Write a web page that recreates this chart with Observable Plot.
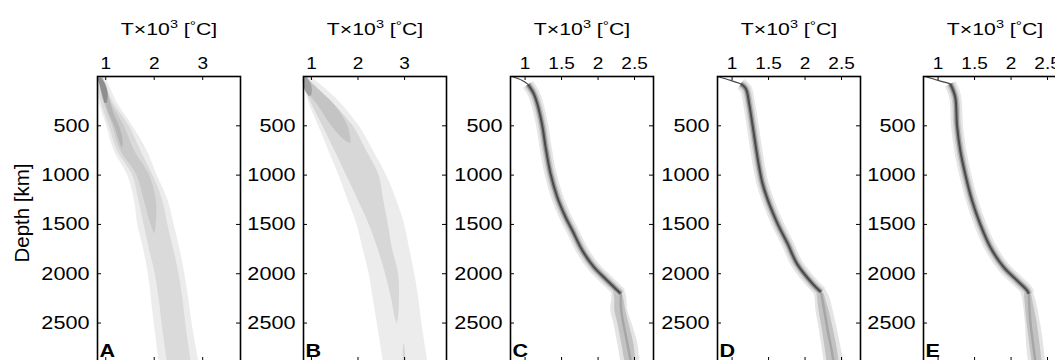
<!DOCTYPE html>
<html><head><meta charset="utf-8">
<script src="https://cdn.jsdelivr.net/npm/d3@7"></script>
<script src="https://cdn.jsdelivr.net/npm/@observablehq/plot@0.6"></script>
<style>
body{margin:0;background:#fff;}
#fig{position:relative;width:1055px;height:360px;overflow:hidden;font-family:"Liberation Sans",Arial,Helvetica,sans-serif;background:#fff;}
#fig svg{position:absolute;top:0;overflow:visible;}
.title{position:absolute;top:21px;font-size:17px;line-height:17px;white-space:nowrap;transform:translateX(-50%) scaleX(1.25);color:#000;}
.title .s3{font-size:0.68em;position:relative;top:-0.6em;}
.title .deg{font-size:0.72em;position:relative;top:-0.45em;}
.ylabel{position:absolute;left:22px;top:213px;font-size:20.5px;line-height:20.5px;white-space:nowrap;transform:translate(-50%,-50%) rotate(-90deg);color:#000;}
</style></head><body><div id="fig"></div><script>
// ---------- data ----------
const depthTicks = [500, 1000, 1500, 2000, 2500];
const tempTicksAB = [1, 2, 3];
const tempTicksCDE = [1, 1.5, 2, 2.5];
const panelLetters = ["A", "B", "C", "D", "E"];
const depthLabel = "Depth [km]";

// Panel A: probability contour bands [depth km, T low, T high] (T x 10^3 °C)
const bandA1 = [[0,0.83,0.99],[100,0.83,1.08],[250,0.86,1.22],[500,1.02,1.55],[750,1.17,1.85],[1000,1.45,2.06],[1250,1.59,2.28],[1500,1.66,2.41],[1750,1.78,2.53],[2000,1.88,2.63],[2250,1.94,2.71],[2500,2.00,2.78],[2890,2.10,2.92]];
const bandA2 = [[0,0.83,0.93],[100,0.85,1.02],[250,0.90,1.14],[500,1.07,1.48],[750,1.24,1.72],[1000,1.55,1.97],[1250,1.68,2.17],[1500,1.79,2.28],[1750,1.90,2.40],[2000,2.02,2.51],[2250,2.10,2.59],[2500,2.16,2.65],[2890,2.27,2.76]];
const bandA3 = [[10,0.84,0.95],[250,0.96,1.10],[500,1.14,1.38],[750,1.31,1.59],[1000,1.64,1.90],[1250,1.79,2.04],[1450,1.90,2.05],[1590,2.00,2.02]];
const bandA4 = [[0,0.83,0.90],[150,0.93,1.03],[375,1.07,1.17],[500,1.18,1.28],[650,1.28,1.36],[720,1.33,1.35]];
const bandA5 = [[20,0.84,0.92],[80,0.88,1.00],[180,0.93,1.05],[270,0.98,1.03]];

// Panel B
const bandB1 = [[0,0.83,0.99],[100,0.848,1.239],[250,0.935,1.587],[500,1.152,2.022],[750,1.370,2.326],[1000,1.587,2.609],[1250,1.783,2.826],[1500,1.978,3.0],[1750,2.109,3.109],[2000,2.239,3.217],[2250,2.326,3.304],[2500,2.413,3.370],[2890,2.543,3.5]];
const bandB2 = [[0,0.83,0.93],[100,0.85,1.02],[250,0.98,1.41],[500,1.24,1.89],[750,1.50,2.18],[1000,1.75,2.45],[1250,2.00,2.55],[1500,2.24,2.65],[1750,2.43,2.74],[2000,2.59,2.87],[2250,2.72,2.89],[2450,2.80,2.87],[2510,2.84,2.84]];
const bandB2b = [[2720,2.98,3.00],[2800,2.97,3.02],[2890,2.97,3.03]];
const bandB3 = [[0,0.83,0.87],[50,0.83,0.98],[150,0.91,1.20],[300,1.15,1.52],[500,1.43,1.78],[650,1.72,1.85],[680,1.85,1.85]];
const bandB4 = [[0,0.83,0.89],[80,0.83,1.00],[160,0.89,1.02],[200,0.95,1.00]];

// Panels C, D, E: most probable geotherm [depth, T] and its spread below ~2200 km
const topC = [[0,0.823],[40,0.961],[80,1.04]];
const coreC = [[80,1.04],[176,1.120],[277,1.167],[497,1.235],[717,1.281],[987,1.349],[1224,1.441],[1427,1.555],[1562,1.648],[1765,1.785],[1934,1.944],[2036,2.080],[2170,2.266],[2204,2.311]];
const lowC = [[2204,2.311],[2373,2.318],[2711,2.403],[2890,2.448]];
const spreadC1 = [[2100,2.119,2.284],[2200,2.187,2.380],[2373,2.174,2.407],[2500,2.215,2.462],[2711,2.270,2.545],[2890,2.311,2.572]];
const spreadC2 = [[2150,2.201,2.311],[2250,2.229,2.352],[2373,2.229,2.380],[2500,2.270,2.421],[2711,2.325,2.490],[2890,2.366,2.517]];

const topD = [[0,0.80],[40,0.98],[74,1.12]];
const coreD = [[74,1.12],[125,1.189],[277,1.234],[497,1.281],[717,1.326],[920,1.371],[1088,1.418],[1291,1.509],[1494,1.624],[1697,1.762],[1900,1.890],[2103,2.105],[2187,2.219]];
const lowD = [[2187,2.219],[2373,2.264],[2576,2.311],[2745,2.356],[2890,2.390]];
const spreadD1 = [[2150,2.109,2.274],[2250,2.137,2.343],[2373,2.150,2.384],[2550,2.192,2.439],[2750,2.233,2.494],[2890,2.260,2.536]];
const spreadD2 = [[2200,2.164,2.260],[2373,2.192,2.329],[2550,2.233,2.384],[2750,2.274,2.439],[2890,2.301,2.466]];

const topE = [[0,0.823],[40,1.00],[74,1.167]];
const coreE = [[74,1.167],[210,1.235],[497,1.259],[750,1.304],[994,1.373],[1258,1.465],[1501,1.579],[1731,1.716],[1934,1.899],[2069,2.083],[2170,2.220],[2204,2.242]];
const lowE = [[2204,2.242],[2498,2.266],[2700,2.300],[2890,2.334]];
const spreadE1 = [[2150,2.115,2.279],[2250,2.156,2.334],[2500,2.197,2.403],[2700,2.211,2.444],[2890,2.238,2.472]];
const spreadE2 = [[2200,2.183,2.279],[2500,2.220,2.358],[2890,2.289,2.426]];

// ---------- layout ----------
const W = 143, H = 285, MT = 76, ML = 97, MR = 12;
const lefts = [97, 303, 510, 717, 923];
const FONT = '"Liberation Sans", Arial, Helvetica, sans-serif';
const fig = document.getElementById("fig");

const band = (data, fill) => Plot.areaX(data, {y: d => d[0], x1: d => d[1], x2: d => d[2], fill, curve: "catmull-rom"});
const ln = (data, stroke, strokeWidth) => Plot.line(data, {x: d => d[1], y: d => d[0], stroke, strokeWidth, curve: "catmull-rom", strokeLinecap: "butt"});

function geotherm(top, core, low, s1, s2) {
  return [
    band(s1, "#e4e4e4"),
    ln(core, "#e6e6e6", 12),
    band(s2, "#c2c2c2"),
    ln(core, "#cacaca", 7.5),
    ln(core, "#929292", 4.5),
    ln(core, "#4a4a4a", 2),
    ln(low, "#a6a6a6", 2.5),
    ln(top, "#444444", 1.2)
  ];
}

const panels = [
  {domain: [0.83, 3.78], ticks: tempTicksAB, marks: [band(bandA1,"#ececec"), band(bandA2,"#dadada"), band(bandA3,"#c9c9c9"), band(bandA4,"#b5b5b5"), band(bandA5,"#8e8e8e")]},
  {domain: [0.83, 3.90], ticks: tempTicksAB, marks: [band(bandB1,"#ececec"), band(bandB2,"#d7d7d7"), band(bandB2b,"#d7d7d7"), band(bandB3,"#c4c4c4"), band(bandB4,"#a2a2a2")]},
  {domain: [0.80, 2.76], ticks: tempTicksCDE, marks: geotherm(topC, coreC, lowC, spreadC1, spreadC2)},
  {domain: [0.80, 2.76], ticks: tempTicksCDE, marks: geotherm(topD, coreD, lowD, spreadD1, spreadD2)},
  {domain: [0.80, 2.76], ticks: tempTicksCDE, marks: geotherm(topE, coreE, lowE, spreadE1, spreadE2)}
];

// the reference typeface is wider than Arial: stretch glyphs horizontally about their anchor
function widen(svg, cls, sx) {
  svg.querySelectorAll(cls + " text").forEach(t => {
    const tr = t.getAttribute("transform");
    if (tr && tr.includes("translate")) t.setAttribute("transform", tr + ` scale(${sx},1)`);
  });
}

panels.forEach((p, i) => {
  const svg = Plot.plot({
    width: ML + W + MR, height: MT + H,
    marginTop: MT, marginLeft: ML, marginRight: MR, marginBottom: 0,
    style: {fontFamily: FONT, background: "transparent", color: "#000"},
    x: {domain: p.domain, axis: null},
    y: {domain: [0, 2890], reverse: true, axis: null},
    marks: [
      ...p.marks,
      Plot.frame({stroke: "#000", strokeWidth: 1.6}),
      Plot.tickX(p.ticks, {x: d => d, insetBottom: H - 4, stroke: "#000"}),
      Plot.tickX(p.ticks, {x: d => d, insetTop: H - 4, stroke: "#000"}),
      Plot.tickY(depthTicks, {y: d => d, insetRight: W - 4, stroke: "#000"}),
      Plot.tickY(depthTicks, {y: d => d, insetLeft: W - 4, stroke: "#000"}),
      Plot.axisX(p.ticks, {anchor: "top", tickSize: 0, tickPadding: 7.5, fontSize: 17, label: null, fill: "#000", tickFormat: d => String(d), className: "xlab"}),
      Plot.axisY(depthTicks, {anchor: "left", tickSize: 0, tickPadding: 8, fontSize: 18.5, label: null, fill: "#000", tickFormat: d => String(d), className: "ylab"}),
      Plot.text([panelLetters[i]], {frameAnchor: "bottom-left", dx: 2, dy: -5, fontSize: 18, fontWeight: "bold", textAnchor: "start", lineAnchor: "bottom", fill: "#000", className: "plab"})
    ]
  });
  widen(svg, ".xlab", 1.12);
  widen(svg, ".ylab", 1.17);
  widen(svg, ".plab", 1.2);
  svg.style.left = (lefts[i] - ML) + "px";
  fig.appendChild(svg);
  const t = document.createElement("div");
  t.className = "title";
  t.style.left = (lefts[i] + W / 2) + "px";
  t.innerHTML = 'T×10<span class="s3">3</span> [<span class="deg">°</span>C]';
  fig.appendChild(t);
});
const yl = document.createElement("div");
yl.className = "ylabel";
yl.textContent = depthLabel;
fig.appendChild(yl);
</script></body></html>
